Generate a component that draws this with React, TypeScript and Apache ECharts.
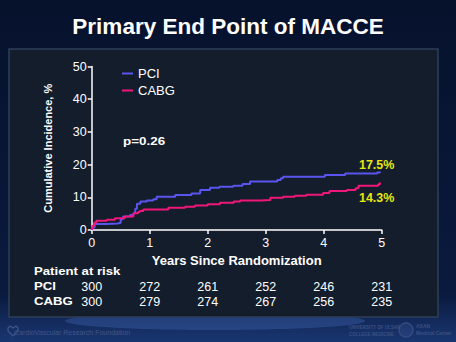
import React, { useEffect, useRef } from "react";
import * as echarts from "echarts";

const titleText = "Primary End Point of MACCE";
const seriesNames = ["PCI", "CABG"];
const pValueText = "p=0.26";
const pciFinalLabel = "17.5%";
const cabgFinalLabel = "14.3%";
const xAxisTitle = "Years Since Randomization";
const yAxisTitle = "Cumulative Incidence, %";
const riskTitle = "Patient at risk";

const years = [0, 1, 2, 3, 4, 5];
const pciAtRisk = [300, 272, 261, 252, 246, 231];
const cabgAtRisk = [300, 279, 274, 267, 256, 235];

const pciCurve: [number, number][] = [
  [0, 0], [0.01, 0.8], [0.05, 1.8], [0.25, 2.0], [0.45, 2.2], [0.5, 3.3], [0.54, 4.1],
  [0.66, 4.6], [0.72, 5.1], [0.75, 6.5], [0.78, 8.0], [0.84, 8.7], [0.95, 9.0], [1.06, 9.4],
  [1.12, 10.2], [1.44, 10.7], [1.72, 11.2], [1.87, 12.2], [2.04, 12.9], [2.2, 13.2],
  [2.44, 13.5], [2.6, 14.1], [2.73, 14.8], [3.2, 15.3], [3.26, 15.8], [3.3, 16.3],
  [4.02, 16.8], [4.37, 17.3], [4.92, 17.6], [4.97, 17.9],
];

const cabgCurve: [number, number][] = [
  [0, 0], [0.01, 1.2], [0.04, 2.2], [0.08, 2.8], [0.26, 3.1], [0.4, 3.6], [0.57, 4.1],
  [0.72, 5.1], [0.8, 5.5], [0.83, 5.8], [0.89, 6.3], [1.32, 6.8], [1.61, 7.1], [1.78, 7.5],
  [2.0, 7.9], [2.21, 8.3], [2.45, 8.7], [2.56, 9.0], [2.91, 9.2], [3.08, 9.9], [3.3, 10.2],
  [3.5, 10.5], [3.7, 10.8], [3.99, 11.3], [4.1, 11.9], [4.4, 12.2], [4.55, 12.8], [4.6, 13.5],
  [4.94, 14.0], [4.97, 14.5],
];

const FONT = "'Liberation Sans', Arial, sans-serif";

export default function App() {
  const ref = useRef<HTMLDivElement>(null);
  useEffect(() => {
    if (!ref.current) return;
    const chart = echarts.init(ref.current, undefined, { renderer: "svg" });
    const riskAxis = (offset: number, values: number[]) => ({
      type: "value",
      gridIndex: 0,
      position: "bottom",
      offset,
      min: 0,
      max: 5,
      interval: 1,
      axisLine: { show: false },
      axisTick: { show: false },
      splitLine: { show: false },
      axisLabel: {
        margin: 0,
        color: "#ffffff",
        fontSize: 12.5,
        fontFamily: FONT,
        formatter: (v: number) => {
          const i = years.indexOf(v);
          return i >= 0 ? String(values[i]) : "";
        },
      },
    });
    const txt = (
      x: number, y: number, text: string, opts: any = {}
    ) => ({
      type: "text",
      x,
      y,
      scaleX: opts.scaleX ?? 1,
      z: 10,
      style: {
        text,
        fill: opts.fill ?? "#ffffff",
        font: `${opts.weight ?? "bold"} ${opts.size ?? 11}px ${FONT}`,
        textAlign: opts.align ?? "left",
        textVerticalAlign: "middle",
      },
    });
    chart.setOption({
      animation: false,
      backgroundColor: {
        type: "linear", x: 0, y: 0, x2: 0, y2: 1,
        colorStops: [
          { offset: 0, color: "#06122c" },
          { offset: 0.86, color: "#0a1a3e" },
          { offset: 1, color: "#1a3672" },
        ],
      },
      title: {
        text: titleText,
        left: "center",
        top: 10,
        textStyle: {
          color: "#ffffff",
          fontSize: 22.5,
          fontWeight: "bold",
          fontFamily: FONT,
          textShadowColor: "#000000",
          textShadowOffsetX: 1.5,
          textShadowOffsetY: 1.5,
          textShadowBlur: 0,
        },
      },
      legend: {
        data: seriesNames,
        orient: "vertical",
        left: 117,
        top: 62,
        icon: "rect",
        itemWidth: 11,
        itemHeight: 2,
        itemGap: 4,
        textStyle: { color: "#ffffff", fontSize: 13, fontFamily: FONT },
      },
      grid: { left: 91.7, right: 74.3, top: 66.5, bottom: 112, containLabel: false },
      xAxis: [
        {
          type: "value",
          min: 0,
          max: 5,
          interval: 1,
          name: xAxisTitle,
          nameLocation: "middle",
          nameGap: 24,
          nameTextStyle: { color: "#ffffff", fontSize: 13, fontWeight: "bold", fontFamily: FONT },
          axisLine: { lineStyle: { color: "#ffffff", width: 1.5 } },
          axisTick: { length: 4, lineStyle: { color: "#ffffff", width: 1.5 } },
          axisLabel: { color: "#ffffff", fontSize: 12.5, fontFamily: FONT, margin: 6 },
          splitLine: { show: false },
        },
        riskAxis(50, pciAtRisk),
        riskAxis(65, cabgAtRisk),
      ],
      yAxis: {
        type: "value",
        min: 0,
        max: 50,
        interval: 10,
        name: yAxisTitle,
        nameLocation: "middle",
        nameGap: 38,
        nameTextStyle: { color: "#ffffff", fontSize: 11, fontWeight: "bold", fontFamily: FONT },
        axisLine: { show: true, lineStyle: { color: "#ffffff", width: 1.5 } },
        axisTick: { show: true, length: 4, lineStyle: { color: "#ffffff", width: 1.5 } },
        axisLabel: { color: "#ffffff", fontSize: 12.5, fontFamily: FONT, margin: 5 },
        splitLine: { show: false },
      },
      series: [
        {
          name: seriesNames[0],
          type: "line",
          step: "end",
          data: pciCurve,
          showSymbol: false,
          symbol: "none",
          lineStyle: { color: "#5a55ee", width: 2 },
          itemStyle: { color: "#5a55ee" },
          z: 3,
        },
        {
          name: seriesNames[1],
          type: "line",
          step: "end",
          data: cabgCurve,
          showSymbol: false,
          symbol: "none",
          lineStyle: { color: "#f0177a", width: 2 },
          itemStyle: { color: "#f0177a" },
          z: 4,
        },
      ],
      graphic: [
        {
          type: "ellipse",
          z: -20,
          shape: { cx: 215, cy: 321, rx: 150, ry: 9 },
          style: { fill: "rgba(70,110,190,0.35)" },
        },
        {
          type: "rect",
          z: -10,
          shape: { x: 9, y: 49, width: 429, height: 268 },
          style: { fill: "#141d2b", stroke: "#2e3f58", lineWidth: 1.5 },
        },
        txt(123, 141, pValueText, { scaleX: 1.22 }),
        txt(359, 165, pciFinalLabel, { fill: "#e6e612", size: 12, scaleX: 1.04 }),
        txt(359, 198, cabgFinalLabel, { fill: "#e6e612", size: 12, scaleX: 1.04 }),
        txt(34, 271, riskTitle, { scaleX: 1.2 }),
        txt(34, 286, seriesNames[0], { scaleX: 1.2 }),
        txt(34, 301, seriesNames[1], { scaleX: 1.2 }),
        {
          type: "polyline",
          z: 5,
          shape: { points: [[13, 336], [8, 331], [8, 328], [10, 326], [13, 328], [16, 326], [18, 328], [18, 331], [13, 336]] },
          style: { stroke: "#3f5788", lineWidth: 1.2, fill: "none" },
        },
        txt(14, 332, "CardioVascular Research Foundation", { fill: "#3f5788", size: 7, weight: "normal" }),
        {
          type: "circle",
          z: 5,
          shape: { cx: 406, cy: 330, r: 7 },
          style: { stroke: "#3a5080", lineWidth: 1.2, fill: "rgba(60,90,150,0.3)" },
        },
        txt(349, 327, "UNIVERSITY OF ULSAN", { fill: "#3a5080", size: 4.5, weight: "bold" }),
        txt(349, 334, "COLLEGE MEDICINE", { fill: "#3a5080", size: 4.5, weight: "bold" }),
        txt(416, 326, "ASAN", { fill: "#3a5080", size: 5, weight: "bold" }),
        txt(416, 333, "Medical Center", { fill: "#3a5080", size: 5, weight: "bold" }),
      ],
    });
    return () => chart.dispose();
  }, []);
  return (
    <div
      ref={ref}
      style={{ position: "fixed", left: 0, top: 0, width: 456, height: 342 }}
    />
  );
}
